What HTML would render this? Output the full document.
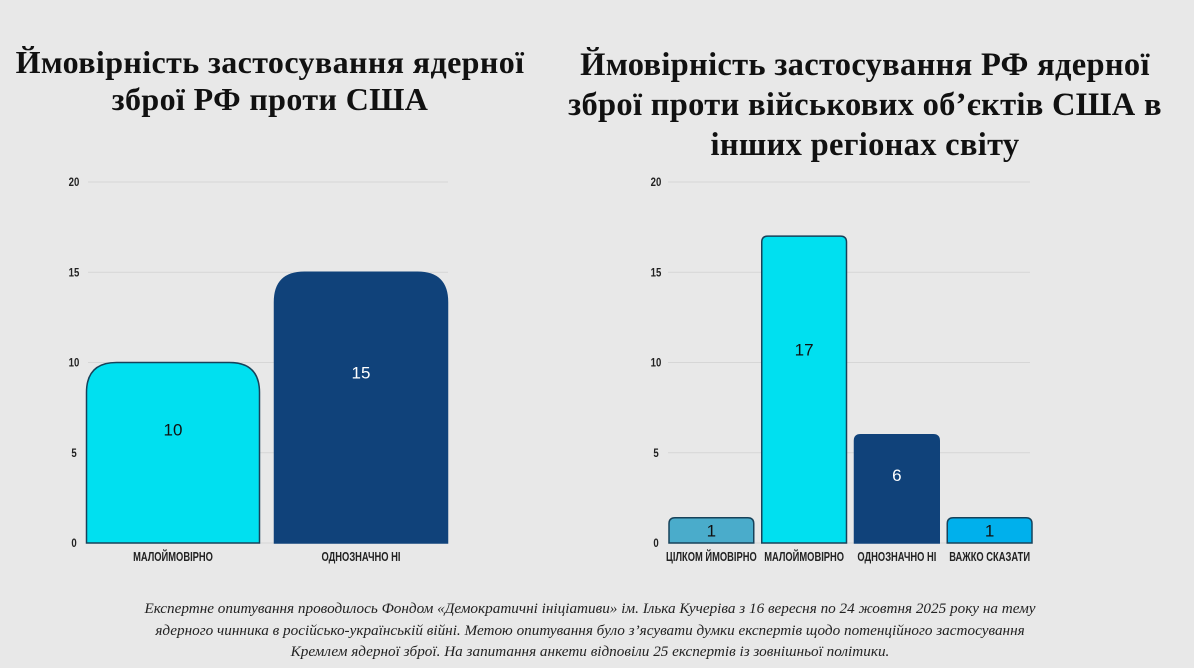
<!DOCTYPE html>
<html><head><meta charset="utf-8">
<style>
html,body{margin:0;padding:0;background:#e8e8e8;}
body{width:1194px;height:668px;overflow:hidden;position:relative;font-family:"Liberation Sans",sans-serif;}
.title{position:absolute;font-family:"Liberation Serif",serif;font-weight:bold;color:#111;text-align:center;white-space:nowrap;}
.foot{position:absolute;left:60px;width:1060px;top:598px;font-family:"Liberation Serif",serif;font-style:italic;font-size:15.2px;line-height:21.5px;text-align:center;color:#222;white-space:nowrap;}
</style></head><body>
<div class="title" style="left:0;width:540px;top:44px;font-size:32px;line-height:37px;letter-spacing:0.4px;">Ймовірність застосування ядерної<br>зброї РФ проти США</div>
<div class="title" style="left:560px;width:610px;top:45px;font-size:32.5px;line-height:40px;letter-spacing:0.3px;">Ймовірність застосування РФ ядерної<br>зброї проти військових об’єктів США в<br>інших регіонах світу</div>
<svg id="chart" width="1194" height="668" style="position:absolute;left:0;top:0"></svg>
<div class="foot">Експертне опитування проводилось Фондом «Демократичні ініціативи» ім. Ілька Кучеріва з 16 вересня по 24 жовтня 2025 року на тему<br>ядерного чинника в російсько-українській війні. Метою опитування було з’ясувати думки експертів щодо потенційного застосування<br>Кремлем ядерної зброї. На запитання анкети відповіли 25 експертів із зовнішньої політики.</div>
<script>
const ticks=[0,5,10,15,20];
const leftCats=["МАЛОЙМОВІРНО","ОДНОЗНАЧНО НІ"];
const leftVals=[10,15];
const leftColors=["#00e0f0","#10427a"];
const rightCats=["ЦІЛКОМ ЙМОВІРНО","МАЛОЙМОВІРНО","ОДНОЗНАЧНО НІ","ВАЖКО СКАЗАТИ"];
const rightVals=[1,17,6,1];
const rightColors=["#4aaccb","#00e0f0","#10427a","#00b0ec"];
const NS="http://www.w3.org/2000/svg";
const svg=document.getElementById('chart');
function mk(tag,attrs,parent){const e=document.createElementNS(NS,tag);for(const k in attrs)e.setAttribute(k,attrs[k]);(parent||svg).appendChild(e);return e;}
function draw(cfg,cats,vals,colors,prefix){
  const y=v=>cfg.y0-(cfg.y0-cfg.y20)*v/20;
  const g=mk('g',{});
  
  
  ticks.forEach(t=>{
    const l=mk('line',{x1:cfg.gx0,x2:cfg.gx1,y1:y(t),y2:y(t),stroke:'#d6d6d6','stroke-width':1},g);
    
    
    const tx=mk('text',{x:0,y:0,transform:`translate(${cfg.tx},${y(t)+4}) scale(0.8,1)`,'font-size':12,'font-weight':'bold',fill:'#222','text-anchor':'middle'},g);
    tx.textContent=t;
    
    
  });
  const n=cats.length, band=(cfg.px1-cfg.px0)/n;
  cats.forEach((c,i)=>{
    const x=cfg.px0+band*i+cfg.gap/2, w=band-cfg.gap;
    const v=Math.max(vals[i],1.4);
    const top=y(v), bot=y(0), r=Math.min(cfg.r,(bot-top)/2);
    const d=`M${x},${bot} L${x},${top+r} Q${x},${top} ${x+r},${top} L${x+w-r},${top} Q${x+w},${top} ${x+w},${top+r} L${x+w},${bot} Z`;
    const p=mk('path',{d:d,fill:colors[i],stroke:colors[i]==='#10427a'?'#10427a':'#17425a','stroke-width':1.5},g);
    
    
    const vy=vals[i]<=2?(top+bot)/2+6:y(vals[i]*0.63)+6;
    const vt=mk('text',{x:x+w/2,y:vy,'font-size':17,fill:colors[i]==='#10427a'?'#fff':'#111','text-anchor':'middle'},g);
    vt.textContent=vals[i];
    
    
    const ct=mk('text',{x:0,y:0,transform:`translate(${x+w/2},${bot+18}) scale(0.72,1)`,'font-size':13,'font-weight':'bold',fill:'#222','text-anchor':'middle'},g);
    ct.textContent=c;
    
    
  });
}
draw({y0:543,y20:182,gx0:88,gx1:448,tx:74,px0:79,px1:455,gap:15,r:30},leftCats,leftVals,leftColors,'left');
draw({y0:543,y20:182,gx0:668,gx1:1030,tx:656,px0:665,px1:1036,gap:8,r:6},rightCats,rightVals,rightColors,'right');
</script>
</body></html>
